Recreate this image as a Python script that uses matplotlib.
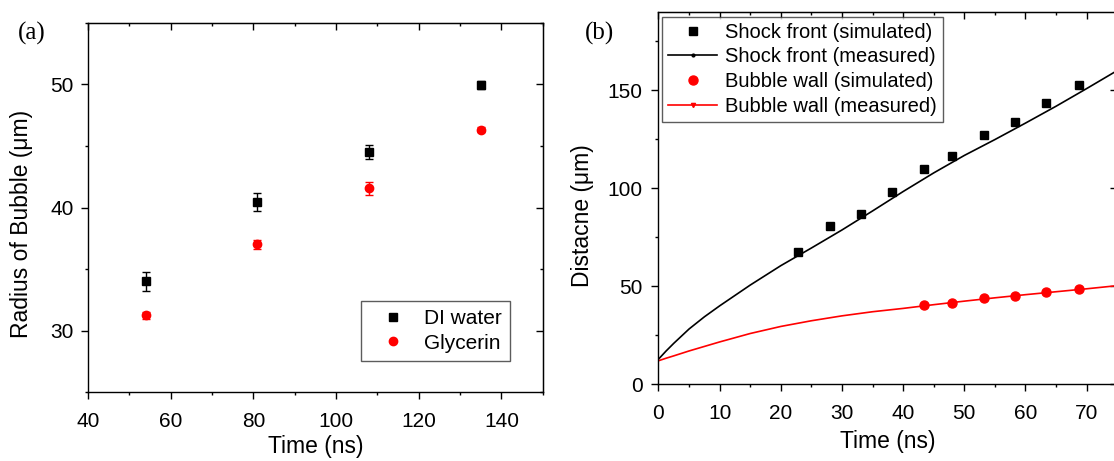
import matplotlib
matplotlib.use("Agg")
import matplotlib.pyplot as plt
from matplotlib.lines import Line2D
from matplotlib.ticker import MultipleLocator

plt.rcParams['font.family'] = ['Liberation Sans', 'DejaVu Sans']

# (a) bubble radius vs time
time_a = [54, 81, 108, 135]
water_r = [34.0, 40.45, 44.5, 49.95]
water_err = [0.8, 0.7, 0.55, 0.3]
glyc_r = [31.25, 37.0, 41.55, 46.3]
glyc_err = [0.3, 0.4, 0.5, 0.2]

# (b) shock front / bubble wall distance vs time
sim_t = [22.8, 28.1, 33.1, 38.2, 43.4, 48.0, 53.2, 58.3, 63.4, 68.7]
shock_sim = [67.3, 80.6, 86.9, 98.0, 110.0, 116.5, 127.0, 134.0, 143.7, 152.7]
wall_t = [43.4, 48.0, 53.2, 58.3, 63.4, 68.7]
wall_sim = [40.3, 41.6, 43.8, 45.2, 46.9, 48.4]

meas_t = [0, 1.25, 2.5, 5, 7.5, 10, 15, 20, 25, 30, 35, 40, 45, 50, 55, 60, 65, 70, 75]
shock_meas = [12.8, 17.0, 20.9, 28.2, 34.4, 40.0, 50.6, 60.5, 69.5, 78.7, 88.4, 98.3,
              107.8, 116.7, 124.8, 133.2, 141.8, 150.8, 160.0]
wall_meas = [12.0, 13.3, 14.5, 17.0, 19.3, 21.6, 25.9, 29.5, 32.4, 34.9, 37.0, 38.7,
             40.6, 42.4, 44.1, 45.7, 47.2, 48.7, 50.3]

FS = 15      # tick labels
LFS = 16.5   # axis titles


def style_axes(ax, xmaj, xmin, ymaj, ymin, xpad, ypad):
    ax.xaxis.set_major_locator(MultipleLocator(xmaj))
    ax.xaxis.set_minor_locator(MultipleLocator(xmin))
    ax.yaxis.set_major_locator(MultipleLocator(ymaj))
    ax.yaxis.set_minor_locator(MultipleLocator(ymin))
    ax.tick_params(which='major', direction='out', length=5, width=1, labelsize=FS)
    ax.tick_params(which='minor', direction='out', length=2.5, width=1)
    ax.tick_params(axis='x', pad=xpad)
    ax.tick_params(axis='y', pad=ypad)
    for s in ax.spines.values():
        s.set_linewidth(1)
    # mirrored ticks pointing inwards on top and right
    top = ax.secondary_xaxis('top')
    top.xaxis.set_major_locator(MultipleLocator(xmaj))
    top.xaxis.set_minor_locator(MultipleLocator(xmin))
    top.tick_params(which='major', direction='in', length=5, width=1, labeltop=False)
    top.tick_params(which='minor', direction='in', length=2.5, width=1)
    right = ax.secondary_yaxis('right')
    right.yaxis.set_major_locator(MultipleLocator(ymaj))
    right.yaxis.set_minor_locator(MultipleLocator(ymin))
    right.tick_params(which='major', direction='in', length=5, width=1, labelright=False)
    right.tick_params(which='minor', direction='in', length=2.5, width=1)


fig = plt.figure(figsize=(11.14, 4.61), dpi=100)

# ---- panel (a)
ax1 = fig.add_axes([0.0790, 0.1490, 0.4082, 0.8017])
ax1.errorbar(time_a, water_r, yerr=water_err, fmt='s', color='black', ms=5.5,
             capsize=3, elinewidth=1, capthick=1, label='DI water')
ax1.errorbar(time_a, glyc_r, yerr=glyc_err, fmt='o', color='red', ms=6,
             capsize=3, elinewidth=1, capthick=1, label='Glycerin')
ax1.set_xlim(40, 150)
ax1.set_ylim(25, 55)
style_axes(ax1, 20, 10, 10, 5, 9.5, 5.5)
ax1.set_xlabel('Time (ns)', fontsize=LFS)
ax1.set_ylabel('Radius of Bubble (μm)', fontsize=LFS)
ax1.xaxis.set_label_coords(0.5, -0.115)
ax1.yaxis.set_label_coords(-0.12, 0.455)
h, l = ax1.get_legend_handles_labels()
h = [x[0] for x in h]
leg1 = ax1.legend(h, l, loc='upper left', bbox_to_anchor=(0.601, 0.247),
                  borderaxespad=0, fontsize=FS, frameon=True, fancybox=False,
                  edgecolor='#333333', handlelength=2.2, handletextpad=0.4,
                  labelspacing=0.25, borderpad=0.4)
leg1.get_frame().set_linewidth(1)
fig.text(0.016, 0.928, '(a)', family='Liberation Serif', fontsize=18, va='center')

# ---- panel (b)
ax2 = fig.add_axes([0.5911, 0.1664, 0.4118, 0.8082])
ax2.plot(meas_t, shock_meas, color='black', lw=1.2)
ax2.plot(meas_t, wall_meas, color='red', lw=1.2)
ax2.plot(sim_t, shock_sim, 's', color='black', ms=6)
ax2.plot(wall_t, wall_sim, 'o', color='red', ms=6.5)
ax2.set_xlim(0, 75)
ax2.set_ylim(0, 190)
style_axes(ax2, 10, 5, 50, 25, 9.5, 6.3)
ax2.set_xlabel('Time (ns)', fontsize=LFS)
ax2.set_ylabel('Distacne (μm)', fontsize=LFS)
ax2.xaxis.set_label_coords(0.5, -0.123)
ax2.yaxis.set_label_coords(-0.14, 0.454)
handles = [
    Line2D([], [], ls='none', marker='s', color='black', ms=6),
    Line2D([], [], color='black', lw=1.2, marker='o', ms=2),
    Line2D([], [], ls='none', marker='o', color='red', ms=6.5),
    Line2D([], [], color='red', lw=1.2, marker='v', ms=3),
]
labels = ['Shock front (simulated)', 'Shock front (measured)',
          'Bubble wall (simulated)', 'Bubble wall (measured)']
leg2 = ax2.legend(handles, labels, loc='upper left', bbox_to_anchor=(0.0083, 0.9866),
                  borderaxespad=0, fontsize=14.5, frameon=True, fancybox=False,
                  edgecolor='#333333', handlelength=2.4, handletextpad=0.4,
                  labelspacing=0.28, borderpad=0.3)
leg2.get_frame().set_linewidth(1)
fig.text(0.525, 0.928, '(b)', family='Liberation Serif', fontsize=18, va='center')

fig.savefig('out.png', dpi=100)
